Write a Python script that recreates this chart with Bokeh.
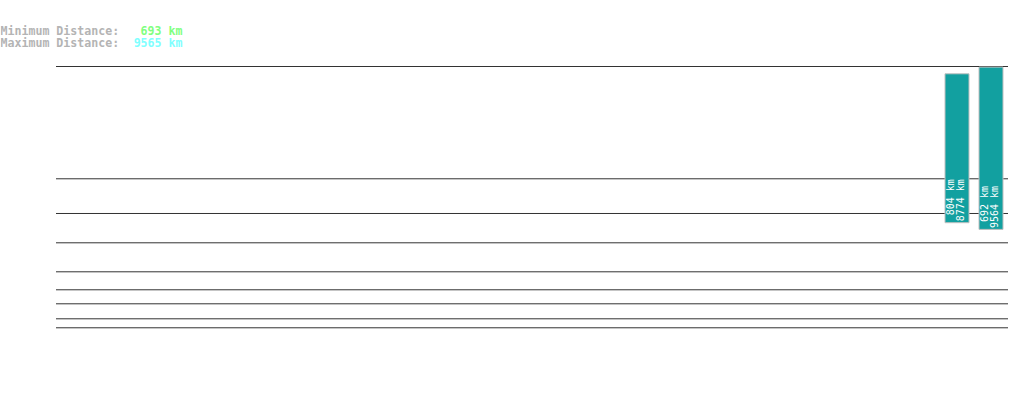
import math
from bokeh.plotting import figure
from bokeh.models import Range1d, ColumnDataSource
from bokeh.core.properties import value
from bokeh.embed import file_html
from bokeh.resources import INLINE

# ---- data ----
slot_index = [26, 27]
min_km = [804, 692]
max_km = [8774, 9564]
n_slots = 28
guide_levels_km = [4817, -1800, -3845, -5572, -7281, -8341, -9166, -10050, -10580]
summary_labels = ["Minimum Distance:", "Maximum Distance:"]
summary_values = ["693 km", "9565 km"]
summary_colors = ["#80ff80", "#80ffff"]

# ---- layout constants ----
W, H = 1015, 396
PAGE = 0
SLOT_PX = 34.0
KM_PX = 0.01697
ORIGIN_SX = 72.5
ORIGIN_SY = 147.75

x0 = (PAGE - ORIGIN_SX) / SLOT_PX
x1 = x0 + W / SLOT_PX
y_top = (ORIGIN_SY - PAGE) / KM_PX
y_bot = (ORIGIN_SY - PAGE - H) / KM_PX


def sx(px):
    return x0 + (px - PAGE) / SLOT_PX


def sy(py):
    return (ORIGIN_SY - py) / KM_PX


p = figure(width=W, height=H, x_range=Range1d(x0, x1), y_range=Range1d(y_bot, y_top),
           output_backend="svg", toolbar_location=None, min_border=0,
           x_axis_location=None, y_axis_location=None,
           outline_line_color=None, background_fill_color="white",
           border_fill_color="white")
p.xgrid.grid_line_color = None
p.ygrid.grid_line_color = None

# guide lines
gsrc = ColumnDataSource(dict(
    x0=[-0.5] * len(guide_levels_km), x1=[n_slots - 0.5] * len(guide_levels_km),
    y=guide_levels_km))
p.segment(x0="x0", x1="x1", y0="y", y1="y", source=gsrc,
          line_color="#333333", line_width=1)

# bars centred on zero, height = max distance
bsrc = ColumnDataSource(dict(
    x=slot_index,
    bottom=[-m / 2 for m in max_km],
    top=[m / 2 for m in max_km],
    min_txt=[f"{v} km" for v in min_km],
    max_txt=[f"{v} km" for v in max_km],
))
p.vbar(x="x", width=24 / SLOT_PX, bottom="bottom", top="top", source=bsrc,
       fill_color="#12a0a0", line_color="#c0c0c0", line_width=1)

for col, off in (("min_txt", -7), ("max_txt", 3.7)):
    p.text(x="x", y="bottom", text=col, source=bsrc, angle=math.pi / 2,
           text_align="right", text_baseline="middle", x_offset=off, y_offset=-43.5,
           text_color="white", text_font=value("DejaVu Sans Mono"),
           text_font_size="10px")

# header summary
hsrc = ColumnDataSource(dict(
    lx=[sx(0)] * 2, vx=[sx(182)] * 2, y=[sy(30), sy(42)],
    lab=summary_labels, val=summary_values, col=summary_colors))
p.text(x="lx", y="y", text="lab", source=hsrc, text_align="left",
       text_baseline="alphabetic", text_color="#b4b4b4", text_font_style="bold",
       text_font=value("DejaVu Sans Mono"), text_font_size="11.6px")
p.text(x="vx", y="y", text="val", source=hsrc, text_align="right",
       text_baseline="alphabetic", text_color="col", text_font_style="bold",
       text_font=value("DejaVu Sans Mono"), text_font_size="11.6px")

open("out.html", "w").write(file_html(p, INLINE))
